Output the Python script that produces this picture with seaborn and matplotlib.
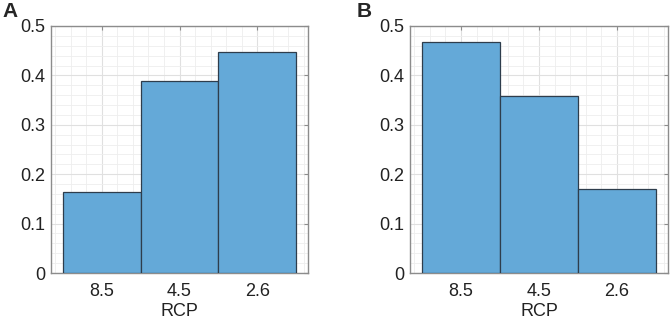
import numpy as np
import pandas as pd
import seaborn as sns
import matplotlib.pyplot as plt
from matplotlib.ticker import MultipleLocator

# data
rcp = ["8.5", "4.5", "2.6"]
share_a = [0.163, 0.389, 0.447]
share_b = [0.468, 0.358, 0.170]

sns.set_style("white")
plt.rcParams['font.family'] = ['Liberation Sans', 'DejaVu Sans']

bar_color = "#64a9d8"
edge_color = "#2e3d4c"
frame_color = "#8c8c8c"

fig = plt.figure(figsize=(6.71, 3.21), dpi=100)
ax_a = fig.add_axes([51 / 671, 1 - 273 / 321, 257 / 671, 247 / 321])
ax_b = fig.add_axes([410 / 671, 1 - 273 / 321, 258 / 671, 247 / 321])

for ax, vals, tag, tx in [(ax_a, share_a, "A", -0.16), (ax_b, share_b, "B", -0.178)]:
    df = pd.DataFrame({"RCP": rcp, "share": vals})
    sns.barplot(x="RCP", y="share", data=df, ax=ax, color=bar_color, width=1.0,
                saturation=1, edgecolor=edge_color, linewidth=0.9, zorder=3)
    ax.set_xlim(-0.655, 2.655)
    ax.set_ylim(0, 0.5)
    ax.yaxis.set_minor_locator(MultipleLocator(0.02))
    ax.xaxis.set_minor_locator(MultipleLocator(0.2))
    ax.set_yticks([0, 0.1, 0.2, 0.3, 0.4, 0.5])
    ax.set_yticklabels(["0", "0.1", "0.2", "0.3", "0.4", "0.5"])
    ax.grid(which="major", color="#e0e0e0", linewidth=0.8, zorder=0)
    ax.grid(which="minor", color="#eeeeee", linewidth=0.6, zorder=0)
    ax.set_axisbelow(True)
    ax.tick_params(which="major", direction="in", length=3, color=frame_color,
                   top=True, right=True, labelsize=13, labelcolor="#222222", pad=4)
    ax.tick_params(axis="x", which="major", pad=7)
    ax.tick_params(which="minor", length=0)
    for s in ax.spines.values():
        s.set_color(frame_color)
        s.set_linewidth(1.0)
    ax.set_xlabel("RCP", fontsize=13, color="#222222", labelpad=2)
    ax.set_ylabel("")
    ax.text(tx, 1.036, tag, transform=ax.transAxes,
            fontsize=15, fontweight="bold", ha="center", va="baseline")

fig.savefig("out.png", dpi=100)
